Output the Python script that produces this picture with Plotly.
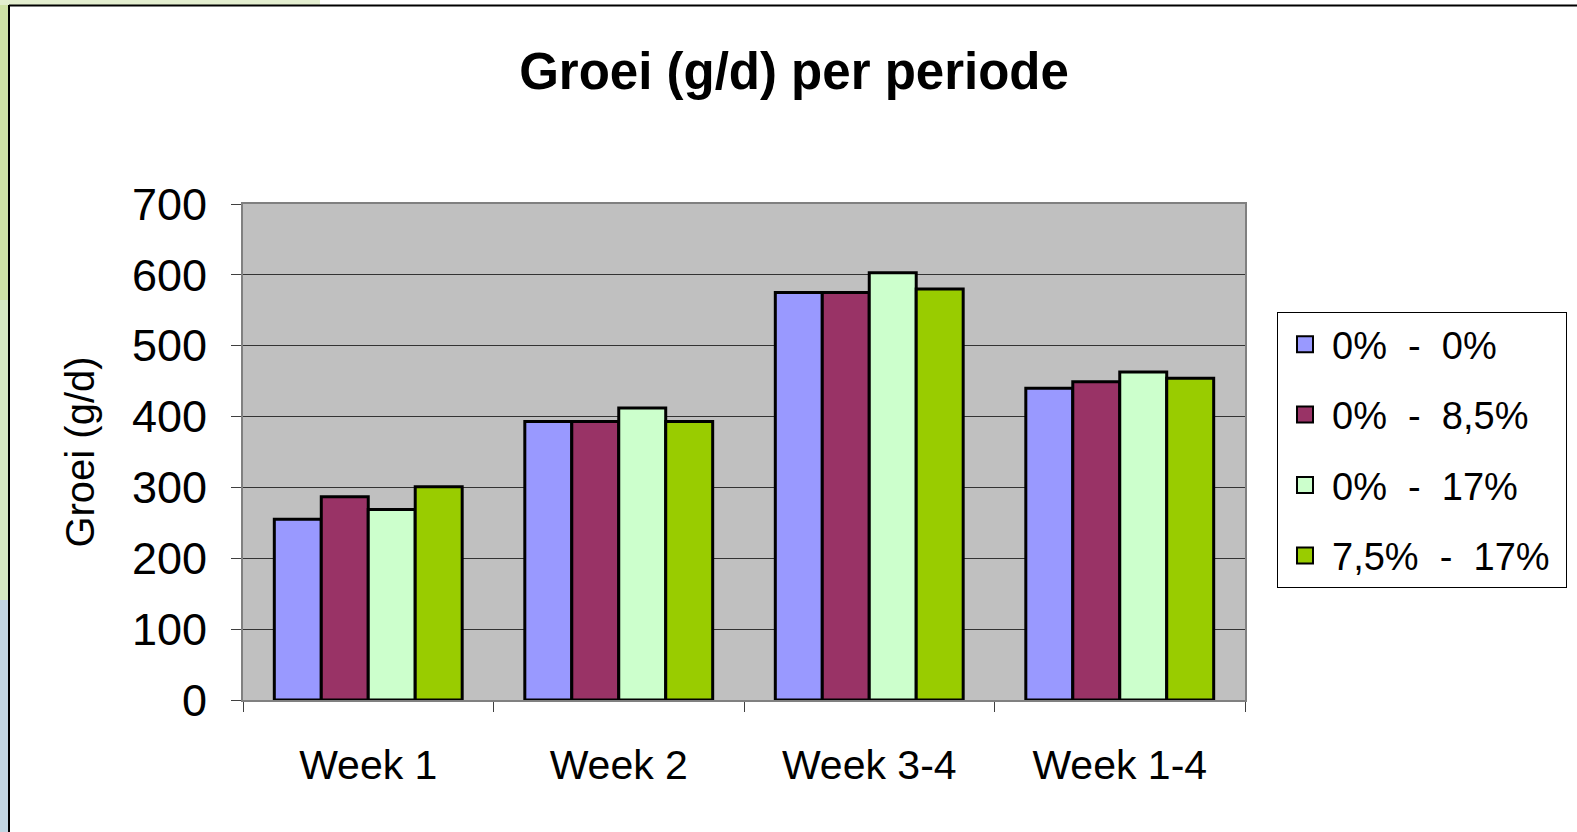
import plotly.graph_objects as go

categories = ["Week 1", "Week 2", "Week 3-4", "Week 1-4"]
series_names = ["0%\u00a0\u00a0-\u00a0\u00a00%", "0%\u00a0\u00a0-\u00a0\u00a08,5%",
                "0%\u00a0\u00a0-\u00a0\u00a017%", "7,5%\u00a0\u00a0-\u00a0\u00a017%"]
s_0_0 = [255, 393, 575, 440]
s_0_85 = [287, 393, 575, 449]
s_0_17 = [269, 412, 603, 463]
s_75_17 = [301, 393, 580, 454]
series_values = [s_0_0, s_0_85, s_0_17, s_75_17]
colors = ["#9999FF", "#993366", "#CCFFCC", "#99CC00"]
y_ticks = [0, 100, 200, 300, 400, 500, 600, 700]

W, H = 1577, 832
L, R, T, B = 243, 1245, 204, 700


def px(x):
    return (x - L) / (R - L)


def py(y):
    return (B - y) / (B - T)


FONT = "Liberation Sans"
fig = go.Figure()
for name, vals, col in zip(series_names, series_values, colors):
    fig.add_trace(go.Bar(
        x=categories, y=vals, name=name, showlegend=False,
        marker=dict(color=col, line=dict(color="black", width=3)),
    ))
# legend entries with larger swatches
for i, (name, col) in enumerate(zip(series_names, colors)):
    fig.add_trace(go.Scatter(
        x=[None], y=[None], name=name + "\u00a0", mode="markers", legendgroup=f"g{i}",
        marker=dict(symbol="square", size=16, color=col,
                    line=dict(color="black", width=2)),
    ))

shapes = [
    # left decorative strip
    dict(type="rect", xref="paper", yref="paper", x0=px(0), x1=px(9), y0=py(0), y1=py(300),
         fillcolor="#cfe2a6", line=dict(width=0), layer="below"),
    dict(type="rect", xref="paper", yref="paper", x0=px(0), x1=px(9), y0=py(300), y1=py(600),
         fillcolor="#d6e8c2", line=dict(width=0), layer="below"),
    dict(type="rect", xref="paper", yref="paper", x0=px(0), x1=px(9), y0=py(600), y1=py(832),
         fillcolor="#c2d6e2", line=dict(width=0), layer="below"),
    dict(type="rect", xref="paper", yref="paper", x0=px(0), x1=px(320), y0=py(0), y1=py(5),
         fillcolor="#e3eecf", line=dict(width=0), layer="below"),
    # outer frame
    dict(type="line", xref="paper", yref="paper", x0=px(9), x1=px(9), y0=py(5), y1=py(832),
         line=dict(color="black", width=2)),
    dict(type="line", xref="paper", yref="paper", x0=px(9), x1=px(1577), y0=py(5.5), y1=py(5.5),
         line=dict(color="black", width=2)),
]

fig.update_layout(
    width=W, height=H,
    margin=dict(l=L, r=W - R, t=T, b=H - B, autoexpand=False),
    paper_bgcolor="white",
    plot_bgcolor="#C0C0C0",
    barmode="group",
    bargap=0.25,
    bargroupgap=0,
    font=dict(family=FONT, color="black"),
    title=dict(text="<b>Groei (g/d) per periode</b>", x=794 / W, xanchor="center",
               xref="container", yref="container", y=1 - 71 / H, yanchor="middle",
               font=dict(family=FONT, size=51, color="black")),
    xaxis=dict(
        type="category", showgrid=False, tickson="boundaries", ticks="outside",
        ticklen=10, tickcolor="#404040", tickwidth=1,
        showline=True, linecolor="#808080", linewidth=2, mirror=True,
        tickfont=dict(family=FONT, size=41), ticklabelstandoff=28,
        automargin=False,
    ),
    yaxis=dict(
        range=[0, 700], tickvals=y_ticks, ticktext=[str(v) for v in y_ticks],
        showgrid=True, gridcolor="#333333", gridwidth=1,
        ticks="outside", ticklen=10, tickcolor="#404040", tickwidth=1,
        showline=True, linecolor="#808080", linewidth=2, mirror=True,
        zeroline=False,
        tickfont=dict(family=FONT, size=45), ticklabelstandoff=15,
        title=dict(text="Groei (g/d)", font=dict(family=FONT, size=40), standoff=25),
        automargin=False,
    ),
    legend=dict(
        x=px(1277), y=py(312), xanchor="left", yanchor="top",
        bgcolor="white", bordercolor="black", borderwidth=1,
        font=dict(family=FONT, size=38), tracegroupgap=18,
        itemsizing="trace", itemwidth=44,
    ),
    shapes=shapes,
)

fig.write_html("out.html", config={"displayModeBar": False},
               post_script="document.body.style.margin='0';")
